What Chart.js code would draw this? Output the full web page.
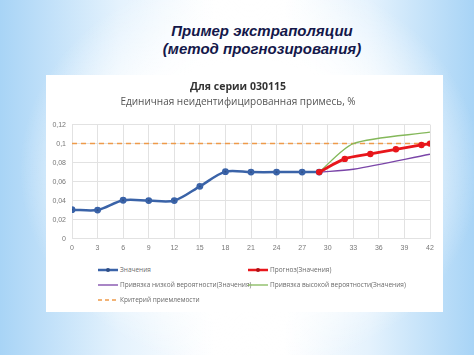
<!DOCTYPE html>
<html>
<head>
<meta charset="utf-8">
<script src="https://cdn.jsdelivr.net/npm/chart.js@4"></script>
<style>
    body {
        margin: 0;
        width: 474px;
        height: 355px;
        overflow: hidden;
        font-family: "Open Sans", "DejaVu Sans", sans-serif;
        background:
            radial-gradient(ellipse 230px 200px at 250px 170px, #ffffff 55%, rgba(255,255,255,0) 100%),
            linear-gradient(90deg, #a8d4f6 0%, #e4f2fd 25%, #ffffff 45%, #ffffff 60%, #e4f2fd 78%, #a8d4f6 100%);
    }
    #heading {
        position: absolute;
        left: 0;
        top: 22px;
        width: 524px;
        text-align: center;
        font-family: "Liberation Sans", Arial, sans-serif;
        font-weight: bold;
        font-style: italic;
        font-size: 15px;
        line-height: 18px;
        color: #14184a;
    }
    #panel {
        position: absolute;
        left: 46px;
        top: 75px;
        width: 397px;
        height: 237px;
        background: #ffffff;
    }
    #chart-wrap {
        position: absolute;
        left: 0;
        top: 0;
        width: 397px;
        height: 182px;
    }
    #legend {
        position: absolute;
        left: 52px;
        top: 190px;
        width: 340px;
        display: grid;
        grid-template-columns: 150px 190px;
        row-gap: 6px;
        font-size: 6.5px;
        color: #6a6a6a;
    }
    .item { display: flex; align-items: center; white-space: nowrap; }
    .sample { width: 20px; height: 6px; margin-right: 2px; flex: none; }
</style>
</head>
<body>
<div id="heading">Пример экстраполяции<br>(метод прогнозирования)</div>
<div id="panel">
    <div id="chart-wrap"><canvas id="plot"></canvas></div>
    <div id="legend"></div>
</div>
<script>
// series data
const valueX = [0, 3, 6, 9, 12, 15, 18, 21, 24, 27, 29];
const valueY = [0.0305, 0.03, 0.0403, 0.04, 0.04, 0.055, 0.0705, 0.07, 0.07, 0.07, 0.07];

const forecastX = [29, 32, 35, 38, 41, 42];
const forecastY = [0.07, 0.0839, 0.0891, 0.094, 0.0986, 0.1];

const lowX = [29, 33, 42];
const lowY = [0.07, 0.073, 0.0888];

const highX = [29, 33, 42];
const highY = [0.07, 0.1, 0.112];

const limitX = [0, 42];
const limitY = [0.1, 0.1];

const seriesNames = [
    'Значения',
    'Прогноз(Значения)',
    'Привязка низкой вероятности(Значения)',
    'Привязка высокой вероятности(Значения)',
    'Критерий приемлемости'
];

function pts(xs, ys) {
    return xs.map((x, i) => ({ x: x, y: ys[i] }));
}

const datasets = [
    {
        label: seriesNames[0],
        data: pts(valueX, valueY),
        borderColor: '#3a63a8',
        backgroundColor: '#2f4f86',
        borderWidth: 2.5,
        pointRadius: 2.2,
        tension: 0.3,
        order: 1
    },
    {
        label: seriesNames[1],
        data: pts(forecastX, forecastY),
        borderColor: '#e8161b',
        backgroundColor: '#b01015',
        borderWidth: 2.8,
        pointRadius: 1.8,
        tension: 0.3,
        order: 0
    },
    {
        label: seriesNames[2],
        data: pts(lowX, lowY),
        borderColor: '#7a45a8',
        borderWidth: 1.3,
        pointRadius: 0,
        tension: 0.3,
        order: 2
    },
    {
        label: seriesNames[3],
        data: pts(highX, highY),
        borderColor: '#84b85a',
        borderWidth: 1.3,
        pointRadius: 0,
        tension: 0.25,
        order: 2
    },
    {
        label: seriesNames[4],
        data: pts(limitX, limitY),
        borderColor: '#ee9a4a',
        borderWidth: 1.5,
        borderDash: [5, 4],
        pointRadius: 0,
        order: 3
    }
];

const ctx = document.getElementById('plot').getContext('2d');
new Chart(ctx, {
    type: 'line',
    data: { datasets: datasets },
    options: {
        responsive: true,
        maintainAspectRatio: false,
        animation: false,
        layout: { padding: { left: 0, right: 13, top: 0, bottom: 0 } },
        scales: {
            x: {
                type: 'linear',
                min: 0,
                max: 42,
                ticks: { stepSize: 3, color: '#777', font: { size: 7 }, padding: 5 },
                grid: { color: '#e2e2e2', drawTicks: false },
                border: { display: false }
            },
            y: {
                min: 0,
                max: 0.12,
                ticks: {
                    stepSize: 0.02,
                    color: '#777',
                    font: { size: 7 },
                    padding: 6,
                    callback: (v) => (Math.round(v * 100) / 100).toString().replace('.', ',')
                },
                grid: { color: '#e2e2e2', drawTicks: false },
                border: { display: false },
                afterFit: (scale) => { scale.width = 26; }
            }
        },
        plugins: {
            legend: { display: false },
            tooltip: { enabled: false },
            title: {
                display: true,
                text: 'Для серии 030115',
                color: '#333',
                font: { size: 10.5, weight: 'bold', family: '"Open Sans", sans-serif' },
                padding: { top: 6, bottom: 3 }
            },
            subtitle: {
                display: true,
                text: 'Единичная неидентифицированная примесь, %',
                color: '#555',
                font: { size: 10, family: '"Open Sans", sans-serif' },
                padding: { top: 0, bottom: 16 }
            }
        }
    }
});

// html legend in two columns, like the original
const legend = document.getElementById('legend');
datasets.forEach((ds) => {
    const item = document.createElement('div');
    item.className = 'item';
    const c = document.createElement('canvas');
    c.className = 'sample';
    c.width = 20; c.height = 6;
    const g = c.getContext('2d');
    g.strokeStyle = ds.borderColor;
    g.lineWidth = Math.min(ds.borderWidth, 2.5);
    if (ds.borderDash) g.setLineDash([4, 3]);
    g.beginPath(); g.moveTo(0, 3); g.lineTo(20, 3); g.stroke();
    if (ds.pointRadius) {
        g.fillStyle = ds.backgroundColor;
        g.beginPath(); g.arc(10, 3, 2, 0, Math.PI * 2); g.fill();
    }
    item.appendChild(c);
    const t = document.createElement('span');
    t.textContent = ds.label;
    item.appendChild(t);
    legend.appendChild(item);
});
</script>
</body>
</html>
